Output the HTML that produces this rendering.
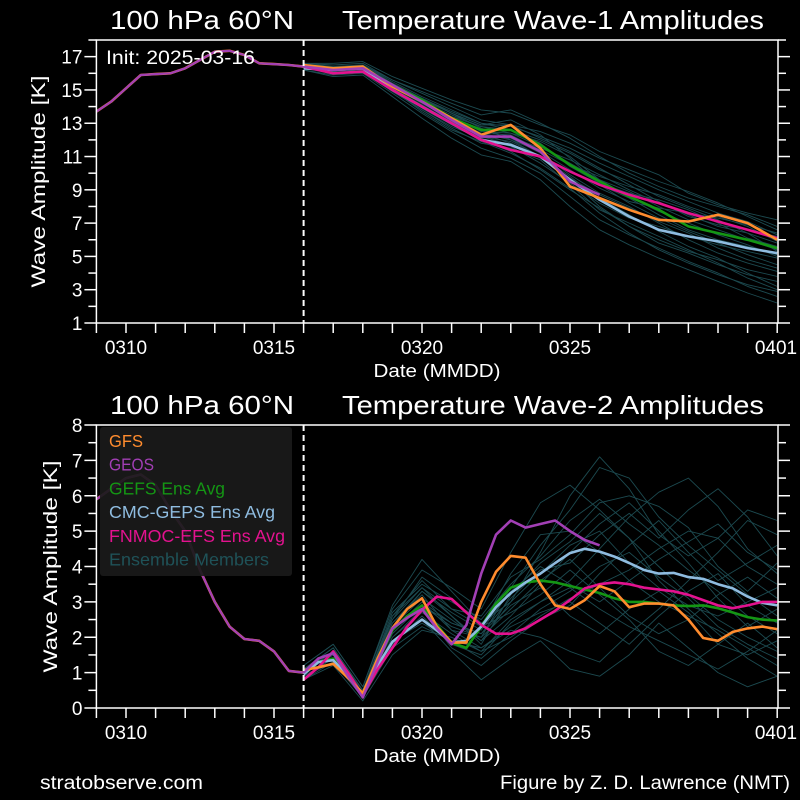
<!DOCTYPE html>
<html><head><meta charset="utf-8"><style>
html,body{margin:0;padding:0;background:#000;}
svg{display:block;font-family:"Liberation Sans",sans-serif;}
</style></head><body>
<svg id="fig" width="800" height="800" viewBox="0 0 800 800" xmlns="http://www.w3.org/2000/svg">
<rect x="0" y="0" width="800" height="800" fill="#000"/>
</svg>
<script>
// ---- data ----
const xTickLabels = ["0310","0315","0320","0325","0401"];
const xTickDays = [1,6,11,16,23];
const topYTicks = [1,3,5,7,9,11,13,15,17];
const botYTicks = [0,1,2,3,4,5,6,7,8];
// analysis (half-day, days 0..7)
const topAnalysis = [13.7,14.3,15.1,15.9,15.95,16.0,16.3,16.8,17.3,17.35,17.1,16.6,16.55,16.5,16.4];
const botAnalysis = [5.9,6.2,6.5,6.6,6.3,5.6,5.0,3.9,3.0,2.3,1.95,1.9,1.6,1.05,1.0];
// top forecasts (daily, days 7..23)
const topGFS = [16.5,16.3,16.4,15.2,14.3,13.3,12.3,12.9,11.5,9.2,8.5,7.8,7.2,7.1,7.5,7.0,6.0];
const topGEOS = [16.4,16.2,16.3,15.3,14.3,13.2,12.2,12.2,11.3,9.5,8.7];
const topGEFS = [16.4,16.2,16.3,15.3,14.4,13.3,12.6,12.6,11.7,10.5,9.5,8.6,7.8,6.8,6.4,6.0,5.5];
const topCMC = [16.3,16.2,16.3,15.0,14.0,13.0,12.0,11.7,11.0,9.6,8.4,7.4,6.6,6.2,5.9,5.5,5.2];
const topFNMOC = [16.4,16.0,16.1,15.0,14.0,13.0,12.0,11.4,11.0,10.1,9.3,8.7,8.2,7.6,7.1,6.6,6.1];
const topMembers = [
[16.5,16.2,16.4,15.3,14.3,13.5,12.8,12.4,11.6,10.6,9.6,8.9,8.0,7.2,6.6,6.0,5.4],
[16.3,16.0,16.1,15.0,13.9,12.9,12.0,11.3,10.2,9.0,7.9,6.8,6.0,5.3,4.8,4.2,3.8],
[16.6,16.5,16.6,15.6,14.9,14.2,13.5,13.8,13.0,12.1,11.0,10.0,9.2,8.5,8.0,7.5,6.8],
[16.4,16.1,16.2,15.1,14.1,13.1,12.2,11.9,11.0,9.8,8.5,7.5,6.5,5.6,4.9,4.0,3.2],
[16.5,16.3,16.5,15.5,14.6,13.8,13.0,12.8,12.2,11.5,10.6,9.8,9.0,8.3,7.6,7.1,6.3],
[16.2,15.9,16.0,14.8,13.6,12.5,11.5,10.9,10.0,8.6,7.2,6.3,5.5,4.7,4.0,3.2,2.6],
[16.4,16.2,16.3,15.2,14.2,13.3,12.6,12.2,11.5,10.8,9.9,9.0,8.2,7.5,6.8,6.4,5.8],
[16.3,16.1,16.2,15.2,14.4,13.6,12.9,13.2,12.3,10.9,9.3,8.2,7.3,6.5,5.8,5.1,4.5],
[16.5,16.4,16.4,15.4,14.5,13.6,12.7,12.0,11.3,10.2,9.1,8.3,7.9,7.6,7.3,6.9,6.4],
[16.4,16.0,16.1,15.0,13.8,12.8,12.1,11.6,10.6,9.4,8.2,7.3,6.8,6.2,5.7,5.3,4.9],
[16.6,16.4,16.5,15.4,14.5,13.7,13.0,12.6,12.0,11.2,10.2,9.5,8.6,7.9,7.2,6.4,5.3],
[16.3,16.2,16.3,15.1,14.0,12.9,12.3,12.1,11.2,9.9,8.8,8.0,7.0,6.0,5.2,4.6,4.1],
[16.4,16.3,16.3,15.3,14.3,13.4,12.5,12.4,11.9,11.0,9.6,8.6,7.7,7.0,6.3,5.7,5.0],
[16.5,16.2,16.3,15.3,14.2,13.2,12.4,12.0,11.0,9.6,8.0,6.8,5.8,5.2,4.5,3.9,3.5],
[16.4,16.2,16.3,15.2,14.3,13.4,12.8,12.6,11.8,10.4,9.4,8.8,8.4,7.8,7.0,6.1,5.6],
[16.3,16.1,16.2,15.1,14.1,13.1,12.2,11.7,11.0,10.1,9.3,8.5,7.5,6.6,6.0,5.6,5.1],
[16.2,15.8,15.9,14.6,13.3,12.1,11.1,10.7,9.6,8.0,6.6,5.7,4.9,4.2,3.5,2.8,2.2],
[16.6,16.6,16.7,15.8,15.1,14.4,13.8,13.6,12.9,12.3,11.3,10.6,9.9,8.8,8.1,7.6,7.2],
[16.4,16.1,16.2,15.0,13.7,12.6,11.9,11.2,10.3,9.1,7.6,6.4,5.4,4.6,3.9,3.3,2.9],
[16.5,16.4,16.5,15.6,14.8,14.0,13.2,12.9,12.5,11.8,10.9,10.2,9.5,8.9,8.2,7.4,6.6],
[16.3,16.0,16.1,14.9,13.8,12.7,11.8,11.5,10.8,9.3,7.8,7.0,6.2,5.4,4.6,3.7,3.0],
[16.5,16.3,16.4,15.4,14.5,13.6,12.9,12.9,12.1,11.3,10.3,9.3,8.3,7.4,6.9,6.6,6.2],
[16.4,16.2,16.3,15.1,14.0,13.0,12.4,11.8,10.9,9.7,8.7,7.9,7.1,6.4,5.5,4.8,4.3],
[16.3,16.1,16.2,15.2,14.2,13.3,12.4,12.3,11.4,10.5,9.8,9.2,8.7,8.0,7.4,6.8,5.9]
];
// bottom forecasts (half-day, days 7..23)
const botGFS = [1.07,1.15,1.25,0.85,0.42,1.4,2.26,2.8,3.1,2.3,1.85,1.85,3.0,3.85,4.3,4.25,3.5,2.9,2.8,3.05,3.45,3.3,2.85,2.95,2.95,2.9,2.5,1.98,1.9,2.15,2.25,2.3,2.23];
const botGEOS = [1.0,1.4,1.55,0.9,0.3,1.3,2.25,2.55,2.8,2.25,1.8,2.35,3.8,4.9,5.3,5.1,5.2,5.3,5.0,4.75,4.6];
const botGEFS = [1.0,1.3,1.4,1.0,0.35,1.3,2.2,2.6,2.9,2.35,1.85,1.7,2.3,2.95,3.4,3.55,3.6,3.55,3.45,3.35,3.25,3.1,3.0,3.0,2.95,2.9,2.88,2.9,2.82,2.7,2.57,2.5,2.47];
const botCMC = [0.95,1.3,1.35,0.9,0.4,1.2,1.87,2.2,2.5,2.2,1.85,1.9,2.3,2.85,3.25,3.55,3.8,4.1,4.38,4.5,4.42,4.28,4.1,3.9,3.8,3.82,3.7,3.65,3.5,3.38,3.15,2.97,2.9];
const botFNMOC = [0.8,1.15,1.6,1.0,0.35,1.1,1.7,2.3,2.77,3.15,3.08,2.7,2.35,2.1,2.1,2.25,2.5,2.75,3.05,3.38,3.5,3.55,3.5,3.4,3.35,3.3,3.2,3.05,2.9,2.82,2.9,3.0,3.0];
const botMembers = [
[1.0,1.6,0.5,2.4,3.2,2.2,2.0,3.4,4.6,5.6,6.8,6.5,5.4,4.6,3.9,3.2,2.6],
[0.9,1.3,0.3,1.8,2.6,1.8,1.5,2.4,3.0,3.6,4.5,5.4,6.1,6.5,5.7,4.5,3.8],
[1.1,1.7,0.4,2.6,3.6,2.8,2.3,3.8,4.9,5.0,4.4,3.6,3.0,2.6,2.2,1.7,1.2],
[0.8,1.2,0.2,1.5,2.2,2.0,1.6,2.0,2.6,3.1,3.5,3.9,4.5,5.0,4.8,4.0,3.5],
[1.0,1.5,0.4,2.2,3.0,2.4,2.1,2.9,3.4,2.6,2.1,2.8,3.3,2.7,1.8,1.5,1.9],
[1.2,1.8,0.6,2.8,3.9,3.4,2.8,4.4,5.8,6.3,5.6,4.8,4.0,3.2,2.5,2.0,1.6],
[0.9,1.4,0.3,2.0,2.8,1.7,1.2,1.9,2.5,2.9,3.8,4.6,5.3,4.4,3.6,4.1,4.6],
[1.0,1.6,0.4,2.3,3.1,2.5,1.9,2.6,3.5,4.4,5.2,5.8,5.0,4.1,3.1,2.3,2.8],
[1.1,1.5,0.5,2.5,3.4,2.6,1.8,3.2,4.1,4.7,5.5,4.8,3.6,2.8,2.1,1.4,0.9],
[0.8,1.3,0.3,1.9,2.4,1.9,1.7,2.2,2.0,1.6,1.3,2.1,2.8,3.6,4.4,5.3,4.9],
[1.0,1.5,0.4,2.1,2.9,2.3,2.0,2.8,3.6,4.2,3.4,2.6,2.1,2.5,3.2,3.7,3.1],
[1.1,1.7,0.5,2.7,3.5,3.0,2.5,3.5,4.3,5.3,5.9,5.2,4.6,3.9,3.3,2.6,2.1],
[0.9,1.4,0.3,2.0,2.7,2.1,1.6,2.5,3.0,3.4,2.8,2.3,1.9,1.5,1.1,1.6,2.2],
[1.0,1.6,0.4,2.4,3.3,2.7,2.2,3.3,4.0,3.5,3.0,3.6,4.2,4.7,5.2,4.4,3.9],
[1.2,1.8,0.6,2.9,4.2,3.3,2.4,3.0,3.8,4.6,5.0,4.1,3.4,2.9,2.6,3.0,3.4],
[0.9,1.3,0.3,1.7,2.3,1.9,1.4,2.1,2.8,3.3,4.0,4.4,3.7,3.1,2.3,1.8,1.4],
[1.0,1.5,0.4,2.3,3.3,2.6,1.9,3.0,4.4,6.0,7.1,6.2,4.9,4.3,4.8,5.6,5.3],
[0.9,1.4,0.3,1.9,2.5,1.6,0.8,1.4,1.9,1.1,0.9,1.5,2.4,1.7,1.0,0.6,0.9],
[1.1,1.6,0.5,2.6,3.4,2.8,2.6,3.7,4.2,4.9,5.8,6.0,5.7,5.1,4.0,3.3,4.1],
[1.0,1.5,0.4,2.2,3.0,2.2,1.7,2.3,2.7,3.0,2.4,1.8,2.6,3.3,3.8,2.9,2.4],
[0.9,1.4,0.4,2.1,2.9,2.4,2.1,3.1,3.9,4.1,4.9,5.5,4.8,5.6,6.2,5.4,4.3],
[1.1,1.7,0.5,2.5,3.7,3.1,2.3,2.7,3.2,3.9,3.2,2.5,1.6,1.2,1.8,2.4,1.7]
];

const C = {gfs:"#ff8c2e", geos:"#a23fb5", gefs:"#149614", cmc:"#8fbce0", fnmoc:"#e3128f", mem:"#1c4a50"};
const NS = "http://www.w3.org/2000/svg";
const svg = document.getElementById("fig");
const X0 = 96.4, DAYW = 29.6, XR = 778;
function xScale(d){ return X0 + d*DAYW; }
function mk(tag, attrs, parent){
  const e = document.createElementNS(NS, tag);
  for (const k in attrs) e.setAttribute(k, attrs[k]);
  (parent||svg).appendChild(e); return e;
}

function panel(p){
  const g = mk("g", {});
  
  
  const yS = v => p.bot - (v - p.ymin)/(p.ymax - p.ymin)*(p.bot - p.top);
  const clipId = p.name + "-clip";
  const cp = mk("clipPath", {id: clipId}, g);
  mk("rect", {x: X0, y: p.top, width: XR - X0, height: p.bot - p.top}, cp);
  const plot = mk("g", {"clip-path": "url(#" + clipId + ")"}, g);
  
  
  function line(vals, start, step, color, w, nm){
    const pts = vals.map((v,i) => xScale(start + i*step).toFixed(1) + "," + yS(v).toFixed(1)).join(" ");
    const pl = mk("polyline", {points: pts, fill: "none", stroke: color, "stroke-width": w, "stroke-linejoin": "round"}, plot);
    
    
  }
  p.members.forEach((m,i) => line(m, 7, 1, C.mem, 0.9, "ensemble-member-line"));
  line(p.gefs, 7, p.step, C.gefs, 2.6, "gefs-ens-avg-line");
  line(p.cmc, 7, p.step, C.cmc, 2.6, "cmc-geps-ens-avg-line");
  line(p.fnmoc, 7, p.step, C.fnmoc, 2.6, "fnmoc-efs-ens-avg-line");
  line(p.analysis, 0, 0.5, C.gfs, 2.6, "gfs-analysis-line");
  line(p.gfs, 7, p.step, C.gfs, 2.6, "gfs-line");
  line(p.analysis, 0, 0.5, C.geos, 2.2, "geos-analysis-line");
  line(p.geos, 7, p.step, C.geos, 2.6, "geos-line");
  const dl = mk("line", {x1: xScale(7), x2: xScale(7), y1: p.top, y2: p.bot, stroke: "#fff", "stroke-width": 2, "stroke-dasharray": "6,4"}, g);
  
  
  const fr = mk("rect", {x: X0, y: p.top, width: XR - X0, height: p.bot - p.top, fill: "none", stroke: "#fff", "stroke-width": 1.5}, g);
  
  
  for (let v = p.ymin; v <= p.ymax + 1e-9; v += p.minor){
    const y = yS(v);
    const major = p.yTicks.some(t => Math.abs(t - v) < 1e-6);
    const len = major ? 12 : 8;
    mk("line", {x1: X0 - len, x2: X0, y1: y, y2: y, stroke: "#fff", "stroke-width": 1.5}, g);
    mk("line", {x1: XR, x2: XR + len, y1: y, y2: y, stroke: "#fff", "stroke-width": 1.5}, g);
  }
  p.yTicks.forEach(t => {
    const tx = mk("text", {x: X0 - 14, y: yS(t) + 7, "text-anchor": "end", fill: "#fff", "font-size": 19}, g);
    tx.textContent = t;
    
    
  });
  for (let d = 0; d <= 23; d++){
    const x = xScale(d);
    mk("line", {x1: x, x2: x, y1: p.bot, y2: p.bot + 10, stroke: "#fff", "stroke-width": 1.5}, g);
  }
  xTickLabels.forEach((lab,i) => {
    const tx = mk("text", {x: Math.min(xScale(xTickDays[i]), 776), y: p.bot + 31, "text-anchor": "middle", fill: "#fff", "font-size": 19}, g);
    tx.textContent = lab;
    
    
  });
  const xl = mk("text", {x: 437, y: p.bot + 54, "text-anchor": "middle", fill: "#fff", "font-size": 18, textLength: 127, lengthAdjust: "spacingAndGlyphs"}, g);
  xl.textContent = "Date (MMDD)";
  
  
  const yc = (p.top + p.bot)/2;
  const yl = mk("text", {x: p.ylx, y: yc, "text-anchor": "middle", fill: "#fff", "font-size": 19, textLength: 212, lengthAdjust: "spacingAndGlyphs", transform: "rotate(-90 " + p.ylx + " " + yc + ")"}, g);
  yl.textContent = "Wave Amplitude [K]";
  
  
  const t1 = mk("text", {x: 110, y: p.top - 11, fill: "#fff", "font-size": 26, textLength: 184, lengthAdjust: "spacingAndGlyphs"}, g);
  t1.textContent = "100 hPa 60°N";
  
  
  const t2 = mk("text", {x: 342, y: p.top - 11, fill: "#fff", "font-size": 26, textLength: 422, lengthAdjust: "spacingAndGlyphs"}, g);
  t2.textContent = p.title;
  
  
}

panel({name: "wave1-panel", top: 40, bot: 323, ymin: 1, ymax: 18, minor: 1, yTicks: topYTicks, ylx: 45,
  analysis: topAnalysis, gfs: topGFS, geos: topGEOS, gefs: topGEFS, cmc: topCMC, fnmoc: topFNMOC, members: topMembers, step: 1,
  title: "Temperature Wave-1 Amplitudes"});
panel({name: "wave2-panel", top: 425, bot: 708, ymin: 0, ymax: 8, minor: 0.5, yTicks: botYTicks, ylx: 57,
  analysis: botAnalysis, gfs: botGFS, geos: botGEOS, gefs: botGEFS, cmc: botCMC, fnmoc: botFNMOC, members: botMembers, step: 0.5,
  title: "Temperature Wave-2 Amplitudes"});

const it = mk("text", {x: 106, y: 64, fill: "#fff", "font-size": 19, textLength: 149, lengthAdjust: "spacingAndGlyphs"});
it.textContent = "Init: 2025-03-16";



const lg = mk("g", {});


mk("rect", {x: 100, y: 427, width: 192, height: 149, rx: 3, fill: "#1a1a1a", "fill-opacity": 0.92}, lg);
const legLabels = ["GFS","GEOS","GEFS Ens Avg","CMC-GEPS Ens Avg","FNMOC-EFS Ens Avg","Ensemble Members"];
const legColors = [C.gfs, C.geos, C.gefs, C.cmc, C.fnmoc, "#1f5258"];
const legWidths = [34, 45, 116, 166, 176, 160];
legLabels.forEach((l,i) => {
  const t = mk("text", {x: 109, y: 447 + i*23.7, fill: legColors[i], "font-size": 17.5, textLength: legWidths[i], lengthAdjust: "spacingAndGlyphs"}, lg);
  t.textContent = l;
  
  
});

const f1 = mk("text", {x: 40, y: 789, fill: "#fff", "font-size": 19, textLength: 163, lengthAdjust: "spacingAndGlyphs"});
f1.textContent = "stratobserve.com";


const f2 = mk("text", {x: 500, y: 789, fill: "#fff", "font-size": 19, textLength: 290, lengthAdjust: "spacingAndGlyphs"});
f2.textContent = "Figure by Z. D. Lawrence (NMT)";


</script>
</body></html>
